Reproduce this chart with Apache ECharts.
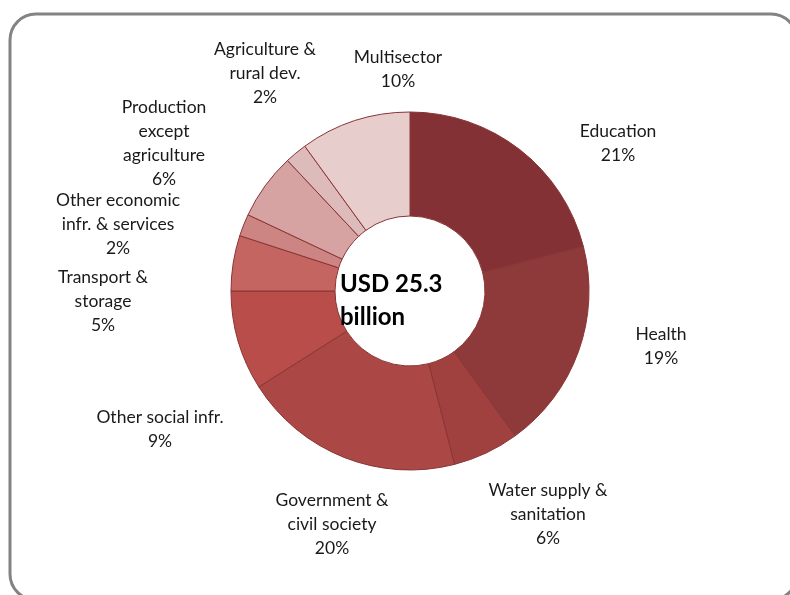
<!DOCTYPE html>
<html>
<head>
<meta charset="utf-8">
<script src="https://cdn.jsdelivr.net/npm/echarts@6/dist/echarts.min.js"></script>
<style>
html,body{margin:0;padding:0;background:#fff;}
#main{width:790px;height:595px;}
</style>
</head>
<body>
<div id="main"></div>
<script>
const categories = [
  'Education', 'Health', 'Water supply &\nsanitation', 'Government &\ncivil society',
  'Other social infr.', 'Transport &\nstorage', 'Other economic\ninfr. & services',
  'Production\nexcept\nagriculture', 'Agriculture &\nrural dev.', 'Multisector'
];
const shares = [21, 19, 6, 20, 9, 5, 2, 6, 2, 10];
const sliceColors = ['#833134', '#8F3A3A', '#A0413F', '#AB4845', '#B94D4A',
  '#C56562', '#CD8584', '#D6A3A2', '#DEBBBB', '#E8CDCD'];
const centerLines = ['USD 25.3', 'billion'];

// label placement (layout only): centre of each label block
const labelCentres = [
  [618, 143], [661, 346], [548, 514], [332, 524], [160, 429],
  [103, 301], [118, 224], [164, 143], [265, 73], [398, 69]
];

const chart = echarts.init(document.getElementById('main'));
chart.setOption({
  animation: false,
  backgroundColor: '#fff',
  graphic: [
    {
      type: 'rect', silent: true, z: 0,
      shape: { x: 10, y: 14, width: 787, height: 586, r: 26 },
      style: { fill: 'none', stroke: '#838383', lineWidth: 3 }
    },
    {
      type: 'text', z: 10, left: 340, top: 268,
      style: {
        text: centerLines.join('\n'),
        font: 'bold 24px Lato, "Open Sans", sans-serif',
        lineHeight: 33, fill: '#000', textAlign: 'left'
      }
    }
  ],
  series: [{
    type: 'pie',
    center: [410, 291],
    radius: [75, 179],
    startAngle: 90,
    clockwise: true,
    avoidLabelOverlap: false,
    itemStyle: { borderColor: '#8A3535', borderWidth: 1 },
    label: {
      show: true,
      position: 'outside',
      formatter: '{b}\n{c}%',
      fontFamily: 'Lato, "Open Sans", sans-serif',
      fontSize: 17.5,
      lineHeight: 24,
      color: '#1a1a1a',
      align: 'center'
    },
    labelLine: { show: false },
    labelLayout: function (p) {
      const c = labelCentres[p.dataIndex];
      return { x: c[0], y: c[1], align: 'center', verticalAlign: 'middle', hideOverlap: false, moveOverlap: null };
    },
    emphasis: { disabled: true },
    data: categories.map((n, i) => ({ name: n, value: shares[i], itemStyle: { color: sliceColors[i] } }))
  }]
});
</script>
</body>
</html>
